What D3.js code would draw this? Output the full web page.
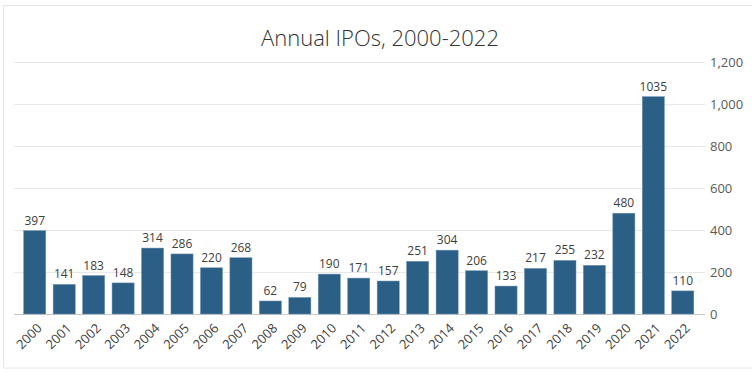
<!DOCTYPE html>
<html><head><meta charset="utf-8">
<script src="https://cdn.jsdelivr.net/npm/d3@7"></script>
<style>body{margin:0;background:#fff}svg{display:block}text{font-family:"Open Sans","Segoe UI",sans-serif}</style>
</head><body><svg id="c" width="752" height="373"></svg>
<script>
const years = ["2000","2001","2002","2003","2004","2005","2006","2007","2008","2009","2010","2011","2012","2013","2014","2015","2016","2017","2018","2019","2020","2021","2022"];
const ipos = [397,141,183,148,314,286,220,268,62,79,190,171,157,251,304,206,133,217,255,232,480,1035,110];
const yTicks = [0,200,400,600,800,1000,1200];
const title = "Annual IPOs, 2000-2022";

const svg = d3.select("#c");
svg.append("rect").attr("x",3.5).attr("y",5.5).attr("width",760).attr("height",362.5)
  .attr("fill","none").attr("stroke","#e6e6e6");
svg.append("text").attr("x",380).attr("y",46).attr("text-anchor","middle")
  .attr("font-size",22).attr("fill","#333").attr("font-weight",300).text(title);

const x = d3.scaleBand().domain(years).range([20,697.5]).paddingInner(0.25).paddingOuter(0.125);
const y = d3.scaleLinear().domain([0,1200]).range([314,62]);

const g = svg.append("g");
g.selectAll("line.grid").data(yTicks).join("line")
  .attr("x1",14).attr("x2",705).attr("y1",d=>Math.round(y(d))+0.5).attr("y2",d=>Math.round(y(d))+0.5)
  .attr("stroke",d=>d===0?"#c8c8c8":"#e8e8e8").attr("stroke-width",1);
g.selectAll("text.yt").data(yTicks).join("text")
  .attr("x",710).attr("y",d=>y(d)+5).attr("font-size",13).attr("fill","#595959")
  .text(d=>d3.format(",")(d));

g.selectAll("rect.bar").data(ipos).join("rect")
  .attr("x",(d,i)=>x(years[i])).attr("width",x.bandwidth())
  .attr("y",d=>y(d)).attr("height",d=>y(0)-y(d))
  .attr("fill","#2c5f86").attr("stroke","#6e94b4").attr("stroke-width",0.5);
g.selectAll("text.val").data(ipos).join("text")
  .attr("x",(d,i)=>x(years[i])+x.bandwidth()/2).attr("y",d=>y(d)-6)
  .attr("text-anchor","middle").attr("font-size",12).attr("fill","#404040").text(d=>d);

g.selectAll("text.xl").data(years).join("text")
  .attr("transform",d=>`translate(${x(d)+x.bandwidth()/2+8},${329}) rotate(-45)`)
  .attr("text-anchor","end").attr("font-size",13).attr("fill","#404040").text(d=>d);
</script></body></html>
